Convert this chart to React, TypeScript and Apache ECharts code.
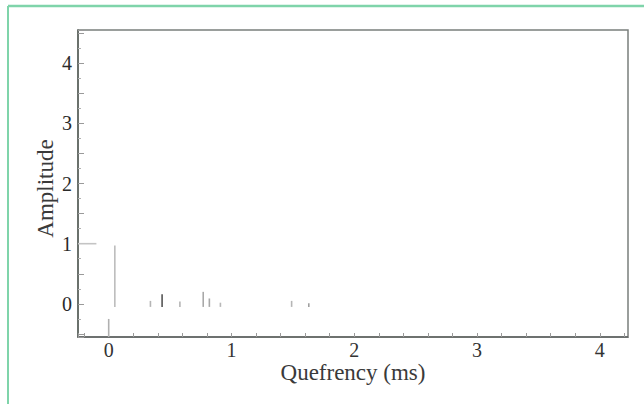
import React, { useEffect, useRef } from "react";
import * as echarts from "echarts";

// Stems of the cepstrum (quefrency in ms, amplitude)
const stemX = [0.05, 0.34, 0.435, 0.58, 0.77, 0.82, 0.91, 1.49, 1.63];
const stemTop = [0.97, 0.05, 0.16, 0.04, 0.2, 0.09, 0.02, 0.05, 0.01];
const stemBase = -0.05;
const stemColors = ["#bdbdbd", "#b5b5b5", "#555555", "#b5b5b5", "#a8a8a8", "#a8a8a8", "#b8b8b8", "#b5b5b5", "#a0a0a0"];

// Extra faint segments seen in the scan: [x0, y0, x1, y1]
const extraSegments = [
  [0.0, -0.55, 0.0, -0.25],
  [-0.25, 1.0, -0.1, 1.0],
];
const extraColors = ["#b0b0b0", "#c4c4c4"];

const xTickLabels = [0, 1, 2, 3, 4];
const yTickLabels = [0, 1, 2, 3, 4];

const X_MIN = -0.25;
const X_MAX = 4.23;
const Y_MIN = -0.55;
const Y_MAX = 4.55;

export default function App() {
  const ref = useRef<HTMLDivElement>(null);

  useEffect(() => {
    if (!ref.current) return;
    const chart = echarts.init(ref.current, undefined, { renderer: "svg" });

    const segments: number[][] = [];
    const colors: string[] = [];
    stemX.forEach((x, i) => {
      segments.push([x, stemBase, x, stemTop[i]]);
      colors.push(stemColors[i]);
    });
    extraSegments.forEach((s, i) => {
      segments.push(s);
      colors.push(extraColors[i]);
    });

    const isInt = (v: number, list: number[]) =>
      list.some((t) => Math.abs(v - t) < 1e-6);

    const font = "'Liberation Serif', 'Times New Roman', serif";

    chart.setOption({
      animation: false,
      backgroundColor: "#ffffff",
      graphic: [
        {
          type: "line",
          shape: { x1: 8, y1: 6, x2: 644, y2: 6 },
          style: { stroke: "#7fd4aa", lineWidth: 2.5 },
        },
        {
          type: "line",
          shape: { x1: 8, y1: 6, x2: 8, y2: 404 },
          style: { stroke: "#7fd4aa", lineWidth: 2 },
        },
      ],
      grid: {
        left: 78,
        right: 16,
        top: 30,
        bottom: 67,
        show: true,
        borderColor: "#7a7f7c",
        borderWidth: 1.5,
        backgroundColor: "transparent",
      },
      xAxis: {
        type: "value",
        min: X_MIN,
        max: X_MAX,
        splitNumber: 22,
        name: "Quefrency (ms)",
        nameLocation: "middle",
        nameGap: 24,
        nameMoveOverlap: false,
        nameTextStyle: { fontFamily: font, fontSize: 23, color: "#3a3a3a" },
        axisLine: { show: true, onZero: false, lineStyle: { color: "#5f6361", width: 1.5 } },
        axisTick: { show: true, inside: true, length: 4, lineStyle: { color: "#9a9a9a" } },
        splitLine: { show: false },
        axisLabel: {
          interval: 0,
          margin: 3,
          fontFamily: font,
          fontSize: 20,
          color: "#333333",
          formatter: (v: number) => (isInt(v, xTickLabels) ? String(Math.round(v)) : ""),
        },
      },
      yAxis: {
        type: "value",
        min: Y_MIN,
        max: Y_MAX,
        splitNumber: 10,
        name: "Amplitude",
        nameLocation: "middle",
        nameGap: 21,
        nameMoveOverlap: false,
        nameRotate: 90,
        nameTextStyle: { fontFamily: font, fontSize: 23, color: "#3a3a3a", padding: [0, 10, 0, 0] },
        axisLine: { show: true, onZero: false, lineStyle: { color: "#5a625c", width: 1.5 } },
        axisTick: { show: true, inside: true, length: 6, lineStyle: { color: "#9a9a9a" } },
        minorTick: { show: true, splitNumber: 2, length: 3, lineStyle: { color: "#b0b0b0" } },
        splitLine: { show: false },
        axisLabel: {
          interval: 0,
          margin: 6,
          fontFamily: font,
          fontSize: 20,
          color: "#2a2a2a",
          formatter: (v: number) => (isInt(v, yTickLabels) ? String(Math.round(v)) : ""),
        },
      },
      series: [
        {
          type: "custom",
          clip: true,
          data: segments,
          renderItem: (params: any, api: any) => {
            const p0 = api.coord([api.value(0), api.value(1)]);
            const p1 = api.coord([api.value(2), api.value(3)]);
            return {
              type: "line",
              shape: { x1: p0[0], y1: p0[1], x2: p1[0], y2: p1[1] },
              style: { stroke: colors[params.dataIndex], lineWidth: 1.6 },
            };
          },
        },
      ],
    });

    return () => chart.dispose();
  }, []);

  return (
    <div
      ref={ref}
      style={{ position: "fixed", left: 0, top: 0, width: 644, height: 404 }}
    />
  );
}
